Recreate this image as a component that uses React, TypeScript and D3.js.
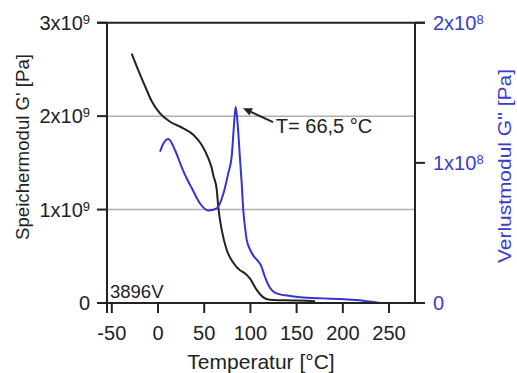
import React from "react";
import * as d3 from "d3";

// ---- data ----
const storageT = [-28.5, -21.3, -14, -6.8, 2.2, 13, 27.4, 38.2, 47.3, 54.4, 58, 60, 63.5, 65.3, 69, 74.3, 81.5, 88.7, 92.3, 99.6, 106.8, 114, 121, 130, 145, 161, 170];
const storageG = [2.67, 2.49, 2.32, 2.16, 2.03, 1.94, 1.87, 1.80, 1.69, 1.55, 1.45, 1.36, 1.22, 1.02, 0.78, 0.57, 0.43, 0.35, 0.33, 0.26, 0.14, 0.06, 0.035, 0.03, 0.028, 0.025, 0.02]; // x1e9

const lossT = [2.2, 6, 11.2, 18.4, 25.6, 31, 36.5, 45.5, 54.4, 63.5, 70.7, 76, 79.8, 82, 84, 86.5, 88.5, 90.6, 92.3, 94, 96, 99, 103, 108, 112, 115, 117.6, 121, 125, 130, 143, 161, 179, 197, 215, 229, 240];
const lossG = [1.08, 1.14, 1.17, 1.09, 0.97, 0.89, 0.82, 0.71, 0.66, 0.675, 0.78, 0.925, 1.05, 1.25, 1.40, 1.25, 1.05, 0.85, 0.66, 0.55, 0.45, 0.39, 0.34, 0.30, 0.26, 0.20, 0.155, 0.11, 0.08, 0.065, 0.05, 0.038, 0.033, 0.028, 0.021, 0.01, 0]; // x1e8

const xTicks = [-50, 0, 50, 100, 150, 200, 250];
const leftTicks = [0, 1, 2, 3]; // x1e9
const leftTickLabels = ["0", "1x10", "2x10", "3x10"];
const rightTicks = [0, 1, 2]; // x1e8
const rightTickLabels = ["0", "1x10", "2x10"];

const xTitle = "Temperatur [°C]";
const leftTitle = "Speichermodul G' [Pa]";
const rightTitle = "Verlustmodul G'' [Pa]";
const sampleLabel = "3896V";
const annotText = "T= 66,5 °C";
const annotTip = { t: 92, g: 1.39 };
const annotTail = { t: 124.5, g: 1.29 };
const annotLabelPos = { t: 127.5, g: 1.21 };

const W = 517, H = 373;
const FONT = "'Liberation Sans', Arial, sans-serif";
const INK = "#222";
const BLUE = "#3333d6";
const BLUE_TXT = "#3b3bcc";

export default function App() {
  const left = 107, right = 415, top = 22.7, bottom = 303;
  const x = d3.scaleLinear().domain([-55.2, 278.1]).range([left, right]);
  const yL = d3.scaleLinear().domain([0, 3]).range([bottom, top]);
  const yR = d3.scaleLinear().domain([0, 2]).range([bottom, top]);

  const lineL = d3.line<number>().x((_, i) => x(storageT[i])).y((d) => yL(d)).curve(d3.curveMonotoneX);
  const lineR = d3.line<number>().x((_, i) => x(lossT[i])).y((d) => yR(d)).curve(d3.curveMonotoneX);

  const tipX = x(annotTip.t), tipY = yR(annotTip.g);
  const tailX = x(annotTail.t), tailY = yR(annotTail.g);
  const ang = Math.atan2(tipY - tailY, tipX - tailX);
  const ah = 9, aw = 4;
  const bx = tipX - ah * Math.cos(ang), by = tipY - ah * Math.sin(ang);
  const arrowHead = `M${tipX},${tipY} L${bx + aw * Math.sin(ang)},${by - aw * Math.cos(ang)} L${bx - aw * Math.sin(ang)},${by + aw * Math.cos(ang)} Z`;

  const tk = 10;

  return (
    <svg width={W} height={H} style={{ position: "absolute", left: 0, top: 0, background: "#fff" }} fontFamily={FONT}>
      <rect width={W} height={H} fill="#fff" />
      {/* gridlines */}
      {leftTicks.filter((v) => v > 0 && v < 3).map((v) => (
        <line key={"g" + v} x1={left} x2={right} y1={yL(v)} y2={yL(v)} stroke="#b0b0b0" strokeWidth={1.5} />
      ))}
      {/* data */}
      <path d={lineL(storageG) || ""} fill="none" stroke={INK} strokeWidth={2} />
      <path d={lineR(lossG) || ""} fill="none" stroke={BLUE} strokeWidth={2} />

      {/* frame */}
      <line x1={left - tk} x2={right + tk} y1={top} y2={top} stroke={INK} strokeWidth={2} />
      <line x1={left - tk} x2={right + tk} y1={bottom} y2={bottom} stroke={INK} strokeWidth={2} />
      <line x1={left} x2={left} y1={top} y2={bottom + tk} stroke={INK} strokeWidth={2} />
      <line x1={right} x2={right} y1={top} y2={bottom} stroke={INK} strokeWidth={2} />

      {/* left ticks */}
      {leftTicks.map((v, i) => (
        <g key={"l" + v}>
          <line x1={left - tk} x2={left} y1={yL(v)} y2={yL(v)} stroke={INK} strokeWidth={2} />
          <text x={90} y={yL(v)} dy="0.36em" textAnchor="end" fontSize={20} fill={INK}>
            {leftTickLabels[i]}
            {v > 0 ? <tspan dy="-0.45em" fontSize={13}>9</tspan> : null}
          </text>
        </g>
      ))}
      {/* right ticks */}
      {rightTicks.map((v, i) => (
        <g key={"r" + v}>
          <line x1={right} x2={right + tk} y1={yR(v)} y2={yR(v)} stroke={INK} strokeWidth={2} />
          <text x={433} y={yR(v)} dy="0.36em" textAnchor="start" fontSize={20} fill={BLUE_TXT}>
            {rightTickLabels[i]}
            {v > 0 ? <tspan dy="-0.45em" fontSize={13}>8</tspan> : null}
          </text>
        </g>
      ))}
      {/* bottom ticks */}
      {xTicks.map((v) => (
        <g key={"x" + v}>
          <line x1={x(v)} x2={x(v)} y1={bottom} y2={bottom + tk} stroke={INK} strokeWidth={2} />
          <text x={x(v)} y={340} textAnchor="middle" fontSize={20} fill={INK}>{v < 0 ? "-" + Math.abs(v) : String(v)}</text>
        </g>
      ))}

      {/* titles */}
      <text x={(left + right) / 2} y={369} textAnchor="middle" fontSize={21} fill={INK}>{xTitle}</text>
      <text transform={`translate(29,${147}) rotate(-90)`} textAnchor="middle" fontSize={19} fill={INK} textLength={186} lengthAdjust="spacingAndGlyphs">{leftTitle}</text>
      <text transform={`translate(511,${166}) rotate(-90)`} textAnchor="middle" fontSize={19} fill={BLUE_TXT} textLength={194} lengthAdjust="spacingAndGlyphs">{rightTitle}</text>

      {/* sample label */}
      <text x={110} y={298} fontSize={18.5} fill={INK}>{sampleLabel}</text>

      {/* annotation */}
      <line x1={tailX} y1={tailY} x2={bx} y2={by} stroke={INK} strokeWidth={2} />
      <path d={arrowHead} fill={INK} />
      <text x={x(annotLabelPos.t)} y={yR(annotLabelPos.g)} fontSize={20} fill={INK}>{annotText}</text>
    </svg>
  );
}
